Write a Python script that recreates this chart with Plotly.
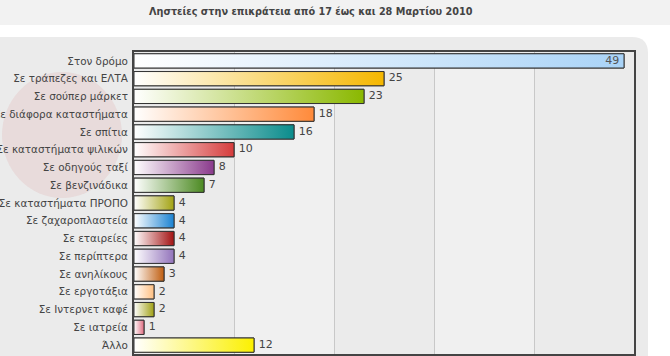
import plotly.graph_objects as go

categories = ["Στον δρόμο", "Σε τράπεζες και ΕΛΤΑ", "Σε σούπερ μάρκετ", "Σε διάφορα καταστήματα",
              "Σε σπίτια", "Σε καταστήματα ψιλικών", "Σε οδηγούς ταξί", "Σε βενζινάδικα",
              "Σε καταστήματα ΠΡΟΠΟ", "Σε ζαχαροπλαστεία", "Σε εταιρείες", "Σε περίπτερα",
              "Σε ανηλίκους", "Σε εργοτάξια", "Σε Ιντερνετ καφέ", "Σε ιατρεία", "Άλλο"]
values = [49, 25, 23, 18, 16, 10, 8, 7, 4, 4, 4, 4, 3, 2, 2, 1, 12]
colors = ["#a9d3f7", "#f5b700", "#8ab800", "#ff8a3a", "#0a8c8c", "#d63c3c", "#8a3a8c", "#4c8a22",
          "#a3a313", "#1a82d2", "#a31212", "#9273bb", "#c05e10", "#ffbf80", "#a0a014", "#e06c80", "#fbf000"]
title = "Ληστείες στην επικράτεια από 17 έως και 28 Μαρτίου 2010"

W, H = 670, 356
L, R, T, B = 134, 36, 52, 2
pw, ph = W - L - R, H - T - B

def px(x):
    return (x - L) / pw

def py(y):
    return 1 - (y - T) / ph

idx = list(range(len(categories)))
bw = 0.8

fig = go.Figure()
# underlying bars (solid), covered by gradient fills
fig.add_trace(go.Bar(
    x=values, y=idx, orientation="h", width=bw,
    marker=dict(color=colors, line=dict(color="#333333", width=1)),
    hoverinfo="x+y", showlegend=False))

# gradient fill + outline for each bar
for i, (v, c) in enumerate(zip(values, colors)):
    fig.add_trace(go.Scatter(
        x=[0, v, v, 0, 0], y=[i - bw / 2, i - bw / 2, i + bw / 2, i + bw / 2, i - bw / 2],
        mode="lines", fill="toself", line=dict(width=1, color="#333333"),
        fillgradient=dict(type="horizontal", colorscale=[[0, "#ffffff"], [1, c]]),
        hoverinfo="skip", showlegend=False))

# value labels
vmax = max(values)
fig.add_trace(go.Scatter(
    x=values, y=idx, mode="markers+text", text=[str(v) for v in values],
    marker=dict(size=6, opacity=0),
    textposition=["middle left" if v == vmax else "middle right" for v in values],
    textfont=dict(family="DejaVu Sans", size=11,
                  color=["#555555" if v == vmax else "#444444" for v in values]),
    cliponaxis=False, hoverinfo="skip", showlegend=False))

shapes = [
    dict(type="rect", xref="paper", yref="paper", x0=px(0), x1=px(W), y0=py(0), y1=py(25),
         fillcolor="#f2f2f2", line=dict(width=0), layer="below"),
]
x0p, x1p, y0p, y1p = px(0), px(648), py(37), py(H + 5)
rx, ry = 16 / pw, 16 / ph
shapes.append(dict(type="path", xref="paper", yref="paper", layer="below",
                   path=f"M {x0p},{y1p} L {x0p},{y0p} L {x1p - rx},{y0p} Q {x1p},{y0p} {x1p},{y0p - ry} L {x1p},{y1p} Z",
                   fillcolor="#ebebeb", line=dict(width=0)))
shapes.append(dict(type="circle", xref="paper", yref="paper", layer="below",
                   x0=px(2), x1=px(122), y0=py(72), y1=py(198),
                   fillcolor="rgba(205,80,80,0.10)", line=dict(width=0)))
for a in (10, 30):
    shapes.append(dict(type="rect", xref="x", yref="paper", x0=a, x1=a + 10, y0=0, y1=1,
                       fillcolor="#f0f0f0", line=dict(width=0), layer="below"))

fig.update_layout(
    width=W, height=H, margin=dict(l=L, r=R, t=T, b=B, pad=0, autoexpand=False),
    paper_bgcolor="#ffffff", plot_bgcolor="#ffffff",
    shapes=shapes, bargap=0.2,
    annotations=[dict(text=f"<b>{title}</b>", xref="paper", yref="paper", x=px(311), y=py(11),
                      showarrow=False, xanchor="center", yanchor="middle",
                      font=dict(family="DejaVu Sans", size=9.7, color="#444444"))],
    font=dict(family="DejaVu Sans", size=11, color="#444444"),
)
fig.update_xaxes(range=[0, 50], showgrid=True, gridcolor="#c8c8c8", gridwidth=1,
                 dtick=10, showticklabels=False, zeroline=False, automargin=False,
                 showline=True, linecolor="#444444", linewidth=2, mirror=True)
fig.update_yaxes(range=[len(categories) - 0.5, -0.5], tickvals=idx, ticktext=categories,
                 showgrid=False, zeroline=False, ticks="", ticklabelstandoff=2, automargin=False,
                 tickfont=dict(family="DejaVu Sans", size=10.4, color="#444444"),
                 showline=True, linecolor="#444444", linewidth=2, mirror=True)

fig.write_html("out.html", config={"displayModeBar": False},
               post_script="document.body.style.margin='0';document.body.style.overflow='hidden';")
